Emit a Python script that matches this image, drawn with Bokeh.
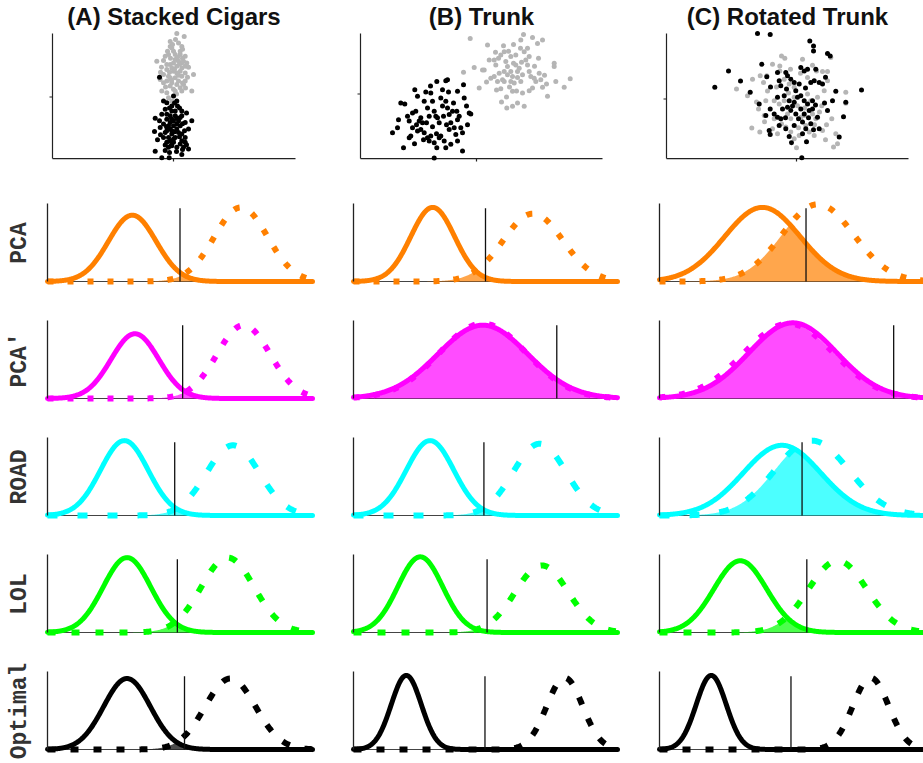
import numpy as np
from bokeh.plotting import figure
from bokeh.layouts import column, row
from bokeh.models import Range1d, FixedTicker
from bokeh.embed import file_html
from bokeh.resources import INLINE

# ---------------- data ----------------
titles = ["(A) Stacked Cigars", "(B) Trunk", "(C) Rotated Trunk"]
methods = ["PCA", "PCA'", "ROAD", "LOL", "Optimal"]
method_colors = ["#ff8000", "#ff00ff", "#00ffff", "#00ff00", "#000000"]

# scatter panels (class 1 = gray, class 0 = black)
a_gray_x = [0.33, 1.07, -0.33, 0.83, -0.17, 0, -0.5, 0.67, 1.17, -0.83, -1.67, -1.0, 0.17, 1.0, 1.33, -0.33, 0.33, 0.83, -0.67, 0,
            0.67, 1.17, 2.0, -1.0, -0.5, 0.17, 0.83, -1.33, -0.67, -0.17, 0.5, 1.17, -0.33, 0.67, 0.83, -1.17, -0.67, 0.17, 1.83, -0.17,
            -0.5, 0, 0.5, -0.17, 0.33, -0.33, 0.83, 0.17, -0.67, 1.17, -1.0, 0.33, 1.0, 0, 0.5, -0.33, 0.67,
            0.2, -0.1, 0.9, -0.6, 0.4, -0.3, 0.9, 1.5, -1.2, 0.1, -0.4, 0.5, 1.4, -0.2, 0.9, -0.8, 0.3, 1.2, -1.3, 0.6]
a_gray_y = [6.4, 6.1, 5.6, 5.1, 4.93, 4.6, 4.27, 4.27, 4.1, 4.1, 3.6, 3.67, 3.77, 3.6, 3.43, 3.27, 3.1, 2.93, 2.77, 2.6,
            2.6, 2.43, 2.27, 2.27, 2.1, 1.93, 2.1, 1.77, 1.6, 1.43, 1.6, 1.6, 1.1, 0.93, 0.6, 0.6, 0.43, 0.6, 0.6, -0.4,
            -0.07, 3.43, 3.6, 2.93, 2.43, 1.93, 3.43, 4.27, 3.27, 3.1, 1.43, 1.27, 1.27, 0.77, 5.43, 5.1, 4.6,
            5.8, 5.3, 4.8, 4.6, 4.0, 3.9, 3.9, 3.0, 3.0, 2.8, 2.5, 2.2, 2.0, 1.7, 1.4, 1.0, 0.3, 0.9, 2.5, 3.3]
a_black_x = [-1.4, -1.0, 0, -0.67, 0.33, 0.83, -0.83, -0.17, -1.17, -0.33, 0.17, 0.67, -1.83, -0.67, 0, 0.5, 1.17, 1.83, -1.0, -0.5,
             0, 0.67, -1.33, -0.33, 0.33, 1.5, -1.9, -0.83, -0.17, 0.83, -1.0, -0.5, 0.17, 1.17, -0.67, 0, 0.67, -0.83, -0.17, 1.0,
             -0.5, 0.33, 1.5, -1.83, -0.83, 0.83, -1.17, -0.43, -0.17, 0.17, -0.33, 0.33, -0.17, 0.5, -0.67, 0, -0.33, 0.83,
             1.17, -0.67, 0.83,
             0.1, -0.4, 0.6, 1.3, -1.4, 0.3, -0.2, 0.9, -0.7, 0.1, 1.1, -1.3, 0.6, -0.2, 0.9, -0.4, 0.3, 1.3, -1.6, 0.4]
a_black_y = [2.0, -0.4, 0.1, -0.57, -0.4, -1.4, -1.23, -1.4, -1.73, -1.9, -1.9, -2.07, -2.13, -2.23, -2.4, -2.4, -2.57, -2.4, -2.73, -2.9,
             -2.9, -2.9, -3.07, -3.23, -3.23, -3.23, -3.47, -3.57, -3.73, -3.73, -4.07, -4.07, -4.07, -4.07, -4.57, -4.57, -4.73, -4.83, -4.9, -5.07,
             -5.07, -5.07, -5.23, -5.47, -5.4, -5.8, -6.13, -6.13, -0.9, -1.4, -2.57, -2.73, -3.4, -3.57, -3.4, -4.23, -4.4, -4.4,
             -4.57, -1.73, -1.9,
             -0.6, -1.1, -1.1, -1.6, -2.4, -2.1, -2.2, -2.7, -3.0, -3.5, -3.4, -3.8, -4.0, -4.8, -5.3, -5.6, -5.5, -4.8, -4.3, -0.9]

b_gray_x = [-0.63, 1.1, 2.7, 3.7, 4.43, 4.7, 5.6, 6.1, 6.6, -1.3, -0.23, 0.77, 1.77, 1.93, 2.43, 2.77, 3.43, 3.93, 4.77, 5.1,
            5.27, 4.93, 3.93, 3.1, 2.77, 2.27, 1.77, 2.6, 3.43, 4.1, 4.6, 5.43, 6.27, 5.93, 4.43, 3.77, 2.77, 2.1, 1.43, 0.27,
            2.43, 3.6, 4.6, 5.27, 6.6, 7.77, 7.77, 7.93, 8.77, 9.37, 7.1, 2.5, 3.03, 3.6, 4.1, 4.77, 1.27, 0.6,
            3.1, 3.6, 4.1, 5.1, 3.43, 4.27, 2.93, 5.27, 5.77, 6.43,
            1.9, 3.2, 4.4, 2.2, 3.7, 4.5, 5.8, 6.8, 3.3, 2.0, 4.0, 5.6, 3.0, 1.0, 6.2, 7.0]
b_gray_y = [5.6, 4.93, 4.87, 5.0, 5.43, 6.0, 5.7, 5.1, 5.43, 2.2, 2.67, 2.43, 3.43, 2.93, 3.93, 4.27, 3.77, 3.93, 4.27, 4.6,
            3.77, 3.43, 2.93, 2.77, 2.27, 2.1, 1.77, 1.43, 1.27, 1.67, 1.93, 1.77, 2.1, 1.27, 1.27, 1.1, 1.27, 1.27, 1.6, 0.6,
            0.53, 0.27, 0.1, 0.33, 0.67, 3.1, 2.77, 1.27, 0.67, 1.53, -0.23, -0.8, -1.4, -1.23, -0.9, -1.23, 3.43, 2.43,
            1.93, 1.77, 2.27, 2.93, 2.27, 2.6, 3.27, 2.27, 1.6, 1.43,
            4.2, 4.3, 4.6, 3.6, 3.1, 3.2, 2.8, 1.9, 0.7, 0.4, 0.3, 0.6, -0.3, 1.2, 3.6, 1.0]
b_black_x = [-8.4, -7.9, -7.3, -6.73, -6.57, -6.17, -7.57, -7.17, -6.9, -6.4, -6.07, -5.9, -5.57, -5.4, -5.23, -5.07, -4.9, -4.73, -4.57, -4.4,
             -4.23, -4.07, -3.97, -3.9, -3.73, -3.57, -3.4, -3.3, -3.07, -2.9, -3.07, -2.9, -2.73, -2.57, -2.4, -2.23, -1.9, -1.97, -1.73, -1.57,
             -1.4, -1.3, -1.23, -0.73, -0.57, -6.4, -5.9, -5.57, -5.23, -4.9, -4.73, -4.57, -4.23, -3.97, -3.73, -3.57, -3.23, -3.07, -2.73, -2.57,
             -2.07, -1.9, -1.4, -4.23, -5.73, -6.73,
             -7.8, -6.0, -5.0, -4.4, -3.4, -2.3, -1.9, -3.0, -4.0, -5.3, -6.2, -2.8, -4.6, -1.0, -0.9]
b_black_y = [-3.9, -3.4, -5.4, -4.4, -4.23, 0.43, -0.9, -1.0, -2.23, -1.9, -1.73, -0.23, -2.4, -2.9, -0.73, 0.2, -1.4, -2.23, 0.1, -0.73,
             -1.73, -2.23, 1.27, -2.4, -2.9, -0.4, 0.43, -2.23, 1.33, 1.43, -0.73, -1.4, -2.07, -2.9, -1.73, -3.4, 0.27, -1.73, -2.23, -3.4,
             -3.9, 0.93, -0.4, -1.9, -2.0, -3.4, -3.73, -3.57, -3.9, -4.4, -4.73, -4.23, -4.9, -5.4, -4.4, -4.23, -4.73, -5.4, -3.57, -5.07,
             -4.07, -4.73, -5.73, -6.45, -2.73, -2.73,
             -2.6, -3.1, -2.9, -3.3, -1.2, -0.9, -2.6, -3.1, -4.0, -4.6, -5.0, 0.2, 0.8, -1.2, -3.1]

c_gray_x = [-6.0, -4.4, -4.9, -3.63, -2.97, -3.3, -2.4, -1.67, -1.5, -1.17, -1.67, -1.23, -0.73, -0.23, 0.6, 1.1, 2.0, 2.6, 3.1, 3.1,
            3.43, 2.77, 4.93, 4.93, -3.8, -3.07, -3.23, -2.23, -1.73, -0.9, -0.23, 0.1, 0.43, 1.1, 1.43, 1.6, 1.93, 2.53, 3.53, -4.47,
            -3.67, -2.4, -1.9, -1.07, -0.57, -0.23, 0.27, 0.93, 1.27, 1.77, 2.6, 3.93, 4.1, 3.7, 0.77, -1.23, -0.57, -2.23, 2.1,
            -2.0, -0.6, 1.6, 0.4, -2.9, -0.8, 0.8, 2.3, -1.5, 0.2, 1.8, -3.2, 3.0, 0.0, 2.9, -4.0]
c_gray_y = [1.0, 2.0, 0.33, 2.33, 2.33, 1.67, 3.5, 3.33, 4.33, 4.1, 2.83, 2.0, 1.5, 1.17, 4.0, 2.17, 2.83, 2.77, 2.77, 1.83,
            4.17, 0.83, 0.67, -0.43, -1.0, -0.17, -1.67, -0.17, -0.5, -1.5, 0.17, -0.67, -1.83, 0.5, -0.17, -1.5, -2.0, -0.67, -2.0, -2.93,
            -3.33, -3.0, -3.5, -2.83, -3.33, -4.0, -3.67, -2.67, -3.33, -3.67, -3.17, -3.5, -4.5, -4.83, -1.67, -0.17, -2.0, -2.0, 0.17,
            1.2, 3.0, 3.4, 2.6, 0.8, 0.6, -0.9, -1.3, -2.5, -2.9, -2.6, -2.3, -2.6, -4.9, -4.1, -0.3]
c_black_x = [-3.9, -2.63, 1.33, 1.7, 1.7, 3.1, 3.37, -6.8, -3.47, -8.17, -4.63, -1.9, -1.07, -1.73, -1.57, -0.9, -0.57, -0.23, 0.43, 0.77,
             1.1, 1.93, 1.43, 1.77, 2.27, 2.6, 3.93, 6.5, -2.97, -1.9, -1.23, -0.73, -0.23, 0.1, 0.43, 0.77, 1.1, 1.6, 3.6, 4.93,
             -3.73, -2.63, -2.23, -1.9, -1.4, -0.9, -0.57, -0.07, 0.43, 0.77, 1.27, 1.6, 2.1, 3.1, -2.73, -2.63, -1.73, -1.07, -0.23, 0.6,
             0.93, 1.43, 1.7, 2.27, -0.73, 0.6, 4.27, 0.53, -3.07, -1.57, 0.27, -0.07,
             -1.0, 0.9, 2.9, -2.6, -0.4, 1.9, -1.1, 0.2, 1.2, -0.5, 1.0, 2.8, -5.6, 4.7]
c_black_y = [6.6, 6.5, 5.83, 5.33, 4.83, 4.57, 4.33, 2.83, 3.5, 1.17, 0.67, 2.67, 2.67, 1.83, 1.33, 2.33, 2.0, 1.67, 3.17, 2.83,
             3.0, 3.0, 1.67, 1.83, 1.67, 1.5, 0.77, 0.9, 2.23, 0.17, 0.33, -0.17, -0.33, 0.17, 0.33, -0.17, -0.5, -0.17, -0.17, -0.33,
             -0.5, -1.0, -1.5, -1.83, -1.0, -0.83, -1.17, -1.5, -1.0, -1.5, -1.17, -1.0, -1.83, -1.17, -3.17, -3.57, -2.67, -3.0, -2.67, -2.33,
             -3.0, -2.5, -3.1, -3.0, -3.77, -3.5, -3.83, -5.93, -1.67, -2.0, 1.5, 0.83,
             1.0, 1.1, 2.2, 1.2, -0.7, -0.6, -1.9, -2.0, -1.9, -4.4, -4.3, -0.4, 1.8, -1.8]

# axis box of each scatter panel, in data units (tick at 0, 0)
scatter_xbox = [(-12.1, 12.2), (-11.6, 12.6), (-13.0, 11.2)]
scatter_ybox = [(-6.2, 6.4), (-6.5, 6.1), (-6.0, 6.6)]

# projected class densities (rows: methods; columns: A, B, C), axis units 0..1
solid_mean = [[0.32, 0.30, 0.39], [0.33, 0.49, 0.505], [0.29, 0.29, 0.464], [0.30, 0.253, 0.306], [0.30, 0.20, 0.196]]
solid_sd = [[0.09, 0.083, 0.143], [0.09, 0.17, 0.166], [0.09, 0.09, 0.147], [0.09, 0.085, 0.10], [0.088, 0.057, 0.057]]
solid_peak = [[0.85, 0.95, 0.95], [0.83, 0.94, 0.97], [0.96, 0.96, 0.90], [0.96, 0.97, 0.92], [0.91, 0.95, 0.95]]
dot_mean = [[0.73, 0.68, 0.60], [0.74, 0.49, 0.49], [0.70, 0.705, 0.577], [0.68, 0.713, 0.675], [0.69, 0.80, 0.80]]
dot_sd = [[0.10, 0.113, 0.136], [0.10, 0.165, 0.17], [0.10, 0.10, 0.14], [0.10, 0.10, 0.11], [0.095, 0.068, 0.068]]
dot_peak = [[0.95, 0.87, 0.99], [0.94, 0.96, 0.96], [0.90, 0.92, 0.96], [0.96, 0.86, 0.92], [0.91, 0.92, 0.92]]
threshold = [[0.50, 0.50, 0.555], [0.51, 0.77, 0.887], [0.48, 0.494, 0.54], [0.49, 0.506, 0.558], [0.517, 0.498, 0.498]]

scatter_sets = [
    (a_gray_x, a_gray_y, a_black_x, a_black_y),
    (b_gray_x, b_gray_y, b_black_x, b_black_y),
    (c_gray_x, c_gray_y, c_black_x, c_black_y),
]

# ---------------- layout / style ----------------
GRAY = "#b5b5b5"
AXC = "#222222"
SC_W = [320, 310, 293]
SC_BL = [46, 34, 30]
SC_FW = [255, 254, 254]
SC_PAD = 6
SC_PAD_TOP = 4
SC_AXIS_H = 126
D_W = [315, 305, 303]
D_BL = [44, 35, 36]
D_SPAN = [265, 264, 264]
D_PAD = [(3, 3), (3, 3), (3, 0)]
ROW_DASH = ["6 14", "6 14", "10 20", "8 16", "8 15"]


def scatter_fig(c):
    gx, gy, bx, by = scatter_sets[c]
    bx0, bx1 = scatter_xbox[c]
    by0, by1 = scatter_ybox[c]
    axis_w = SC_FW[c] - 2 * SC_PAD
    ux = (bx1 - bx0) / axis_w
    uy = (by1 - by0) / SC_AXIS_H
    xr = Range1d(bx0 - SC_PAD * ux, bx1 + SC_PAD * ux)
    yr = Range1d(by0 - SC_PAD * uy, by1 + SC_PAD_TOP * uy)
    frame_h = SC_AXIS_H + SC_PAD + SC_PAD_TOP
    p = figure(width=SC_W[c], height=195, min_border_left=SC_BL[c],
               min_border_right=SC_W[c] - SC_BL[c] - SC_FW[c],
               min_border_top=28, min_border_bottom=195 - 28 - frame_h,
               x_range=xr, y_range=yr, x_axis_location=None, y_axis_location=None,
               toolbar_location=None, output_backend="svg")
    p.grid.visible = False
    p.outline_line_color = None
    p.background_fill_color = None
    p.border_fill_color = None
    p.title.text = titles[c]
    p.title.align = "center"
    p.title.text_font = "Liberation Sans"
    p.title.text_font_size = "24px"
    p.title.text_font_style = "bold"
    p.title.text_color = "#111111"
    p.title.standoff = 0
    p.title.offset = 0
    p.segment(x0=[bx0, bx0, bx0 - 3 * ux, 0], y0=[by0, by0, 0, by0 - 3 * uy],
              x1=[bx0, bx1, bx0, 0], y1=[by1, by0, 0, by0],
              line_color=AXC, line_width=1.2)
    p.scatter(gx, gy, size=5, fill_color=GRAY, line_color=None)
    p.scatter(bx, by, size=5, fill_color="black", line_color=None)
    return p


def density_fig(r, c):
    span = D_SPAN[c]
    pl, pr = D_PAD[c]
    last = (r == len(methods) - 1)
    p = figure(width=D_W[c], height=100 if last else 117,
               min_border_left=D_BL[c], min_border_right=0,
               min_border_top=5, min_border_bottom=10 if last else 27,
               x_range=Range1d(-pl / span, 1 + pr / span),
               y_range=Range1d(-4 / 78, 1 + 3 / 78),
               x_axis_location=None, y_axis_location="left" if c == 0 else None,
               toolbar_location=None, output_backend="svg")
    p.grid.visible = False
    p.outline_line_color = None
    p.background_fill_color = None
    p.border_fill_color = None
    if c == 0:
        ax = p.yaxis[0]
        ax.ticker = FixedTicker(ticks=[])
        ax.axis_line_color = None
        ax.major_tick_line_color = None
        ax.minor_tick_line_color = None
        ax.major_tick_out = 0
        ax.major_tick_in = 0
        ax.axis_label = methods[r]
        ax.axis_label_standoff = 12
        ax.axis_label_text_font = "Liberation Mono"
        ax.axis_label_text_font_style = "bold"
        ax.axis_label_text_font_size = "23px"
        ax.axis_label_text_color = "#333333"
    col = method_colors[r]
    u = np.linspace(0, 1, 400)
    ys = solid_peak[r][c] * np.exp(-0.5 * ((u - solid_mean[r][c]) / solid_sd[r][c]) ** 2)
    yd = dot_peak[r][c] * np.exp(-0.5 * ((u - dot_mean[r][c]) / dot_sd[r][c]) ** 2)
    p.segment(x0=[0], y0=[0], x1=[1], y1=[0], line_color="#444444", line_width=1)
    p.varea(x=u, y1=np.zeros_like(u), y2=np.minimum(ys, yd), fill_color=col, fill_alpha=0.7)
    p.line(u, yd, line_color=col, line_width=6, line_dash=ROW_DASH[r], line_cap="butt")
    p.line(u, ys, line_color=col, line_width=5, line_join="round", line_cap="round")
    t = threshold[r][c]
    p.segment(x0=[t], y0=[0], x1=[t], y1=[0.94], line_color="#111111", line_width=1.3)
    p.segment(x0=[0], y0=[0], x1=[0], y1=[1], line_color=AXC, line_width=1.3)
    return p


rows = [row(*[scatter_fig(c) for c in range(3)])]
for r in range(len(methods)):
    rows.append(row(*[density_fig(r, c) for c in range(3)]))
layout = column(*rows)

open("out.html", "w").write(file_html(layout, INLINE))
